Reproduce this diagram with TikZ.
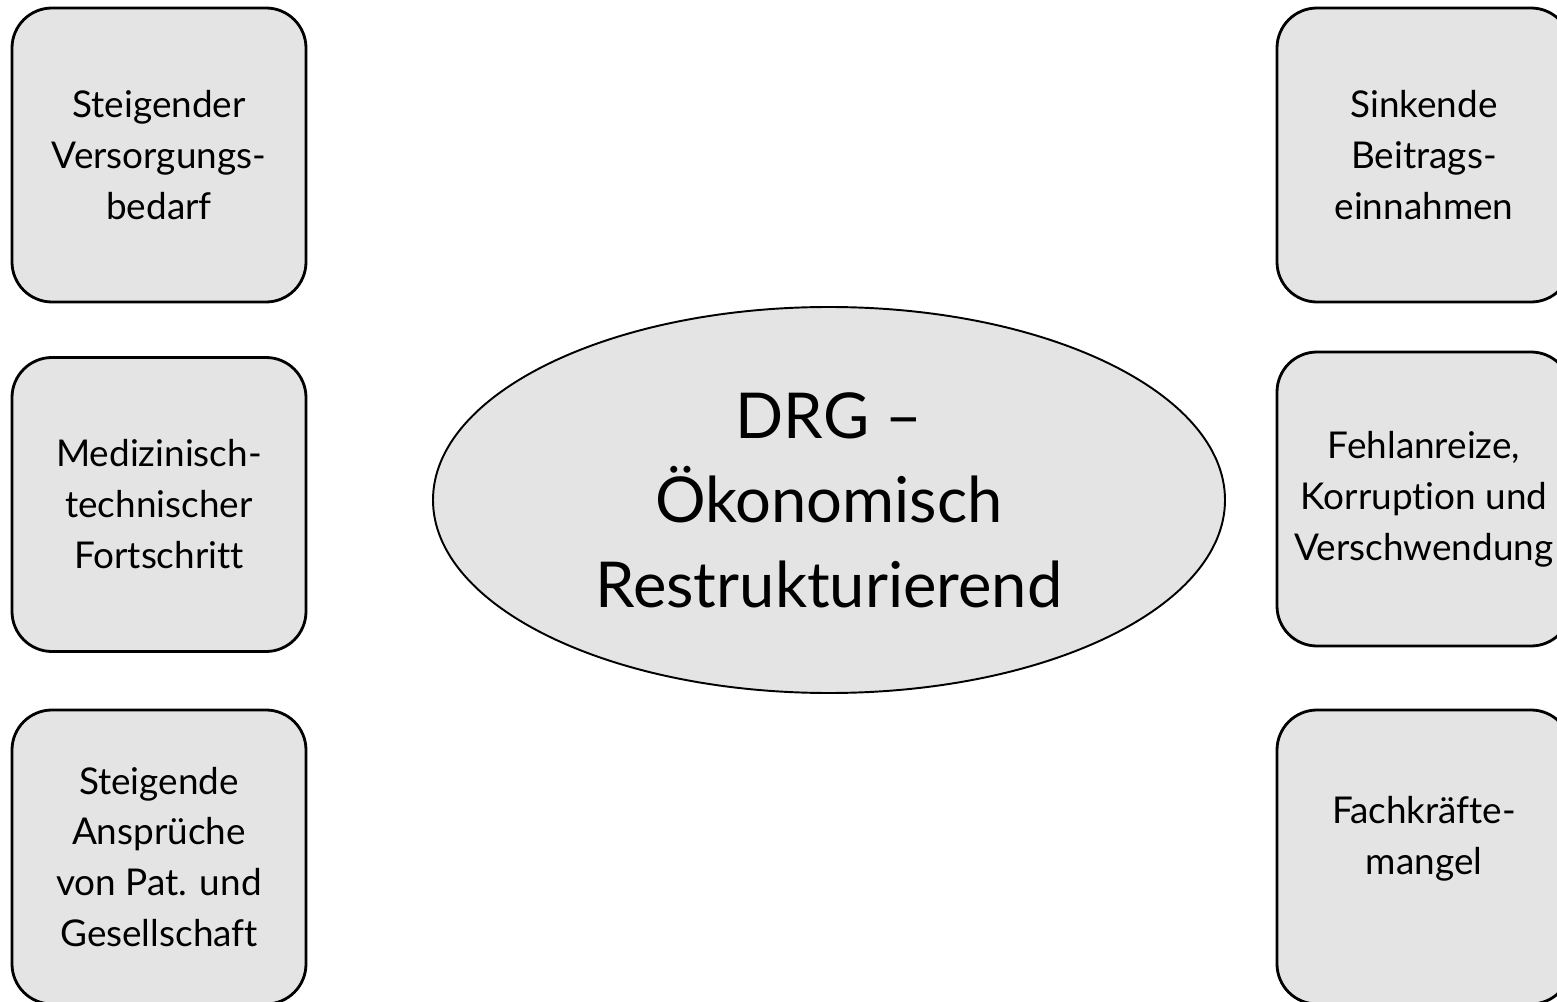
\documentclass[tikz,border=0pt]{standalone}
\usepackage{fontspec}
\setmainfont{Lato}[Ligatures={TeX,NoCommon}]
\usetikzlibrary{shapes.geometric}
\definecolor{boxgray}{HTML}{E4E4E4}
\tikzset{every path/.style={thick}}
\tikzset{
  factor/.style={draw,line width=1.6pt,fill=boxgray,rounded corners=0.8cm,
    minimum width=5.88cm,minimum height=5.88cm,align=center,
    font=\fontsize{21}{29}\selectfont},
  kern/.style={draw,line width=1.1pt,fill=boxgray,ellipse,inner sep=0pt,
    minimum width=15.84cm,minimum height=7.72cm,align=center,
    font=\fontsize{36}{48}\selectfont}
}

\begin{document}
\begin{tikzpicture}
\useasboundingbox (0,0) rectangle (31.14,-20.04);
% linke Seite
\node[factor] (versorgung) at (3.18,-3.1) {Steigender\\Versorgungs-\\bedarf};
\node[factor] (fortschritt) at (3.18,-10.09) {Medizinisch-\\technischer\\Fortschritt};
\node[factor] (ansprueche) at (3.18,-17.14) {Steigende\\Ansprüche\\von Pat. und\\Gesellschaft};
% rechte Seite
\node[factor] (beitraege) at (28.48,-3.1) {Sinkende\\Beitrags-\\einnahmen};
\node[factor] (fehlanreize) at (28.48,-9.98) {Fehlanreize,\\Korruption und\\Verschwendung};
\node[factor,text depth=0.85cm] (fachkraefte) at (28.48,-17.14) {Fachkräfte-\\mangel};
% Mitte
\node[kern] (drg) at (16.58,-10.0) {DRG \textendash\\Ökonomisch\\Restrukturierend};
\end{tikzpicture}
\end{document}
